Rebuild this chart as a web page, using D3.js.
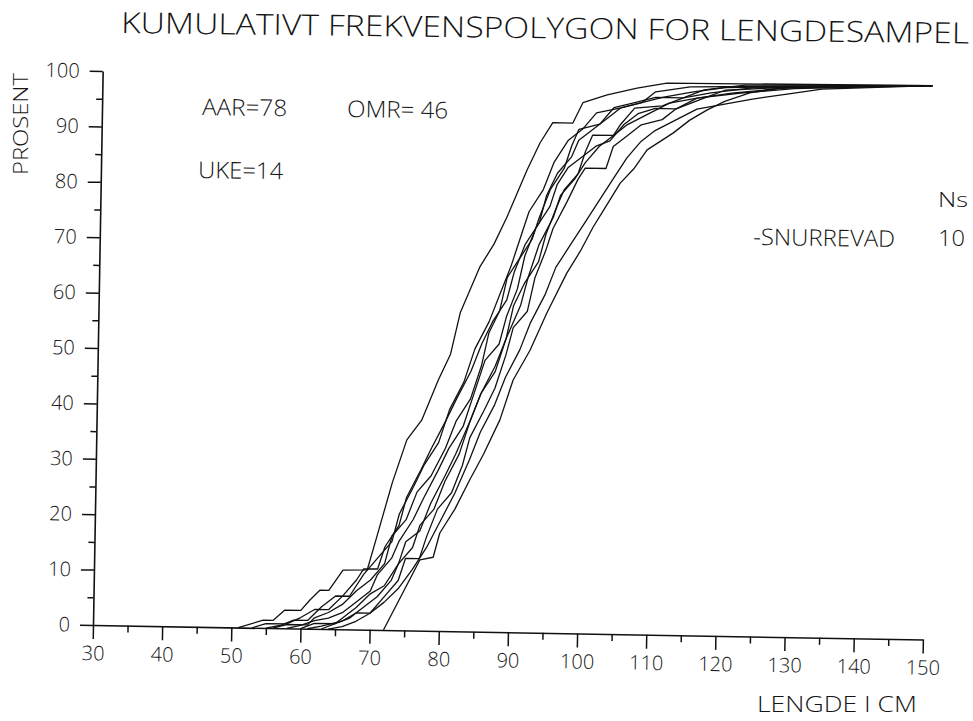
<!DOCTYPE html>
<html>
<head>
<meta charset="utf-8">
<script src="https://cdn.jsdelivr.net/npm/d3@7"></script>
<style>
  html, body { margin: 0; padding: 0; background: #fff; }
  svg { display: block; }
  text { font-family: "Open Sans", "DejaVu Sans", sans-serif; font-weight: 300; fill: #141414; }
</style>
</head>
<body>
<svg id="chart" width="973" height="721"></svg>
<script>
// Axis ticks
const xTicks = [30, 40, 50, 60, 70, 80, 90, 100, 110, 120, 130, 140, 150];
const xMinorTicks = [35, 45, 55, 65, 75, 85, 95, 105, 115, 125, 135, 145];
const yTicks = [0, 10, 20, 30, 40, 50, 60, 70, 80, 90, 100];
const yMinorTicks = [5, 15, 25, 35, 45, 55, 65, 75, 85, 95];

// Cumulative length distributions, one per sample: [length cm, cumulative %]
const sample01 = [[51,0],[54.6,1.4],[56,1.4],[57.7,3.3],[60,3.3],[61.3,5.2],[62.7,7],[64,7],[66,10.7],[69.5,10.8],[70.8,16.8],[72.9,26.6],[74.9,34.4],[77,38],[79.3,45.3],[81,50],[82.3,57.5],[85,65.8],[87,70],[88.8,74.9],[91.6,83.5],[93.4,88.4],[95.2,92.1],[98.1,92.1],[99.5,95.8],[103,97.3],[107.3,98.6],[111.6,99.6],[150,100]];
const sample02 = [[53,0],[55,0.8],[58,0.8],[60,2],[62,3.5],[64,3.5],[66,6],[68,9],[69,11],[71,11],[72,15],[74,19],[75,24],[77,29],[78.5,33],[80.5,38],[82,42],[84,47],[85.5,52],[87,56],[89,60],[90,65],[91.5,70],[93.5,74],[94.5,79],[96,83],[98,86],[99,89],[101,91],[103,93],[105,95],[108,96],[111,97],[115,98],[120,99],[150,100]];
const sample03 = [[56,0],[58,0.7],[61,0.7],[62,2],[64,3],[66,4.5],[68,7],[70,9],[72,12],[73,17],[75,20],[76.5,25],[78.5,28],[80.5,33],[82,38],[84,42],[85.5,48],[86.5,54],[88,58],[89,64],[90.5,67],[92.5,71],[93.5,75],[95,80],[97,84],[98,88],[99,91],[102,92],[104,95],[107,96],[110,97],[114,97],[117,98.5],[123,99.5],[150,100]];
const sample04 = [[58,0],[60,0.6],[62,1.5],[64,2],[66,3],[68,5],[70,7],[71,10],[73,13],[74,16],[76,20],[77.5,24],[79.5,29],[81,33],[83,37],[84.5,43],[86,49],[88,52],[89,57],[90.5,62],[91.5,68],[93,73],[95,77],[96,81],[97.5,84],[99.5,86],[101.5,88],[103.5,89],[105.5,92],[107.5,94],[110,95],[113,95],[116,97],[121,98],[128,99],[135,99.5],[150,100]];
const sample05 = [[60,0],[62,1],[65,1],[66,2],[68,4],[70,6.5],[72,8],[74,12],[75,16],[77,18],[78.5,23],[80.5,28],[82,32],[84,38],[85.5,43],[87.5,48],[89,53],[91,59],[92,64],[93.5,70],[95.5,75],[96.5,79],[98.5,82],[100,85],[102,88],[104,90],[106,92],[109,94],[112,96],[116,97],[122,98],[130,99],[150,100]];
const sample06 = [[61,0],[63,0.5],[66,1.5],[68,3],[70,3],[72,6],[74,9],[75,13],[77,13],[78,17],[79.5,22],[81.5,25],[83,30],[84,35],[86,40],[87.5,44],[89,50],[90,55],[92,58],[93,64],[94.5,69],[95.5,73],[97.5,78],[99,82],[100,84],[103,84],[104,88],[106,90],[108,92],[111,93],[113,95],[117,97],[120,98.5],[126,99],[150,100]];
const sample07 = [[63,0],[65,1],[67,2],[69,4],[71,6],[73,9],[74,12],[76,15],[77,19],[79,22],[80.5,27],[82.5,32],[84,38],[85.5,43],[87.5,47],[89,53],[90,59],[91.5,63],[93.5,67],[94.5,72],[96,77],[97,80],[99,83],[100,87],[101,90],[104,90],[105,92],[107,95],[111,95.5],[114,97],[118,98],[124,99],[150,100]];
const sample08 = [[64,0],[66,0.5],[68,1.5],[70,3],[72,5],[74,7.5],[76,11],[78,15],[80,20],[82,25],[84,31],[85.5,36],[87.5,41],[89,46],[91,51],[92.5,56],[94.5,61],[96,66],[98,70],[100,74],[102,78],[104,82],[106,86],[108,89],[110,91],[113,93],[116,95],[120,96],[124,97],[129,98],[134,99],[150,100]];
const sample09 = [[55,0],[57,0.5],[59,1.5],[61,1.5],[63,4],[65,6],[67,6],[69,10],[71,13],[73,16],[74,21],[76,26],[77.5,30],[79.5,34],[81,40],[83,45],[84.5,51],[86.5,56],[88,61],[89.5,66],[91,72],[92,76],[94,80],[95.5,85],[97.5,89],[99.5,91],[101.5,94],[105,95],[108,96],[110,98],[115,99],[150,100]];
const sample10 = [[72,0],[77.1,12.8],[79,13.3],[79.9,17.7],[82,22],[84.1,27.4],[86,32],[88.3,38.3],[90.1,45.5],[92.5,51],[94.8,57.7],[97.6,65],[99.5,69],[101.3,73.4],[103,77],[105.1,81.4],[107,84],[108.9,87.5],[112.6,90.6],[115,93],[117.5,94.9],[120,96.5],[123.6,98.1],[129.4,99.3],[150,100]];

const samples = [sample01, sample02, sample03, sample04, sample05, sample06, sample07, sample08, sample09, sample10];

const svg = d3.select("#chart");

const x = d3.scaleLinear().domain([30, 150]).range([93, 923]);
const y = d3.scaleLinear().domain([0, 100]).range([625, 71]);

// the plotted frame sits at a slight clockwise tilt
const frame = svg.append("g").attr("transform", "rotate(1, 93, 625)");

function styleAxis(g) {
  g.selectAll("path.domain").attr("stroke", "#111").attr("stroke-width", 1.6);
  g.selectAll(".tick line").attr("stroke", "#111").attr("stroke-width", 1.5);
  g.selectAll(".tick text")
    .attr("font-family", "Open Sans, DejaVu Sans, sans-serif")
    .attr("font-weight", 300)
    .attr("font-size", 20)
    .attr("fill", "#141414");
}

// x axis: minor ticks then major ticks with labels
frame.append("g")
  .attr("transform", `translate(0,${y(0)})`)
  .call(d3.axisBottom(x).tickValues(xMinorTicks).tickSize(7).tickSizeOuter(0).tickFormat(""))
  .call(g => g.select("path.domain").remove())
  .call(styleAxis);

frame.append("g")
  .attr("transform", `translate(0,${y(0)})`)
  .call(d3.axisBottom(x).tickValues(xTicks).tickSize(14).tickSizeOuter(0).tickPadding(7).tickFormat(d3.format("d")))
  .call(styleAxis);

// y axis
frame.append("g")
  .attr("transform", `translate(${x(30)},0)`)
  .call(d3.axisLeft(y).tickValues(yMinorTicks).tickSize(6).tickSizeOuter(0).tickFormat(""))
  .call(g => g.select("path.domain").remove())
  .call(styleAxis);

frame.append("g")
  .attr("transform", `translate(${x(30)},0)`)
  .call(d3.axisLeft(y).tickValues(yTicks).tickSize(13).tickSizeOuter(0).tickPadding(10).tickFormat(d3.format("d")))
  .call(styleAxis);

// cumulative frequency polygons
const line = d3.line().x(d => x(d[0])).y(d => y(d[1]));
frame.append("g")
  .selectAll("path")
  .data(samples)
  .join("path")
  .attr("d", line)
  .attr("fill", "none")
  .attr("stroke", "#111")
  .attr("stroke-width", 1.3)
  .attr("stroke-linejoin", "round");

// titles and annotations
function label(txt, px, py, size, len, rot) {
  const t = svg.append("text")
    .attr("x", px).attr("y", py)
    .attr("font-size", size)
    .attr("textLength", len)
    .attr("lengthAdjust", "spacingAndGlyphs")
    .text(txt);
  if (rot) t.attr("transform", `rotate(${rot}, ${px}, ${py})`);
  return t;
}

label("KUMULATIVT FREKVENSPOLYGON FOR LENGDESAMPEL", 121, 33, 29, 848, 0.7);
label("AAR=78", 202, 115, 23, 85, 0.8);
label("OMR= 46", 347, 117, 23, 101, 0.8);
label("UKE=14", 198, 178, 23, 85, 0.8);
label("Ns", 938, 207, 20, 30, 0);
label("-SNURREVAD", 753, 245, 23, 142, 0.8);
label("10", 938, 246, 22, 27, 0);
label("LENGDE I CM", 757, 712, 22, 160, 0);

svg.append("text")
  .attr("transform", "translate(28,124) rotate(-90)")
  .attr("text-anchor", "middle")
  .attr("font-size", 21)
  .attr("textLength", 102)
  .attr("lengthAdjust", "spacingAndGlyphs")
  .text("PROSENT");
</script>
</body>
</html>
